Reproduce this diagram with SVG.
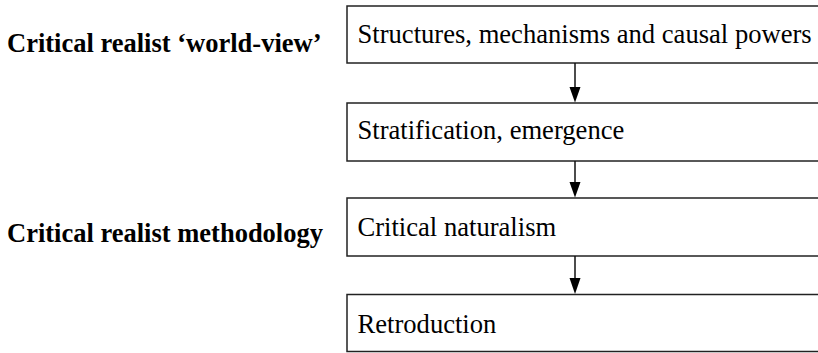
<svg xmlns="http://www.w3.org/2000/svg" width="818" height="353" viewBox="0 0 818 353">
<style>
.box{fill:#fff;stroke:#222;stroke-width:1.5}
.c{stroke:#111;stroke-width:1.5;fill:none}
</style>
<rect width="818" height="353" fill="#fff"/>
<g font-family="Liberation Serif, DejaVu Serif, serif" fill="#000">
<g id="label-worldview"><text font-size="26.5" font-weight="bold" x="7" y="52">Critical realist ‘world-view’</text></g>
<g id="label-methodology"><text font-size="26.5" font-weight="bold" x="7" y="242">Critical realist methodology</text></g>
<g id="n1"><rect class="box" x="347" y="6" width="480" height="57"/><text font-size="26.6" x="357.5" y="43">Structures, mechanisms and causal powers</text></g>
<g id="n2"><rect class="box" x="347" y="103" width="480" height="58"/><text font-size="26.6" x="357.5" y="139">Stratification, emergence</text></g>
<g id="n3"><rect class="box" x="347" y="198" width="480" height="58"/><text font-size="26.6" x="357.5" y="236">Critical naturalism</text></g>
<g id="n4"><rect class="box" x="347" y="294.5" width="480" height="57"/><text font-size="26.6" x="357.5" y="333">Retroduction</text></g>
</g>
<g id="connectors">
<line class="c" x1="575" y1="63" x2="575" y2="88"/><polygon points="569.5,87 580.5,87 575,102.5" fill="#000"/>
<line class="c" x1="575" y1="161" x2="575" y2="183"/><polygon points="569.5,182 580.5,182 575,197.5" fill="#000"/>
<line class="c" x1="575" y1="256" x2="575" y2="279"/><polygon points="569.5,278 580.5,278 575,294" fill="#000"/>
</g>
</svg>
